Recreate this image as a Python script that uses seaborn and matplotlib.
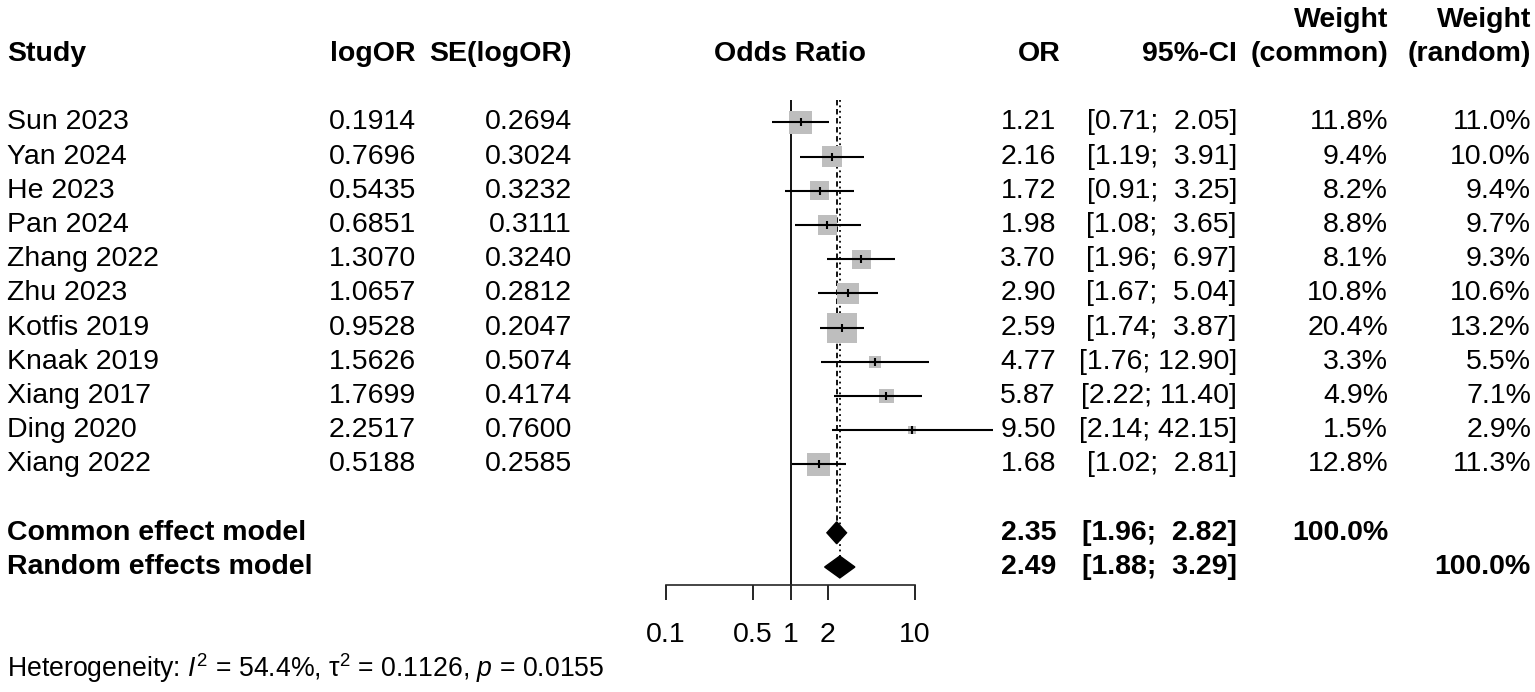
import numpy as np
import pandas as pd
import matplotlib
matplotlib.use("Agg")
import matplotlib.pyplot as plt
from matplotlib.ticker import NullLocator
import seaborn as sns

# data
studies = ["Sun 2023", "Yan 2024", "He 2023", "Pan 2024", "Zhang 2022", "Zhu 2023",
           "Kotfis 2019", "Knaak 2019", "Xiang 2017", "Ding 2020", "Xiang 2022"]
log_or = [0.1914, 0.7696, 0.5435, 0.6851, 1.3070, 1.0657, 0.9528, 1.5626, 1.7699, 2.2517, 0.5188]
se_log_or = [0.2694, 0.3024, 0.3232, 0.3111, 0.3240, 0.2812, 0.2047, 0.5074, 0.4174, 0.7600, 0.2585]
or_est = [1.21, 2.16, 1.72, 1.98, 3.70, 2.90, 2.59, 4.77, 5.87, 9.50, 1.68]
ci_low = [0.71, 1.19, 0.91, 1.08, 1.96, 1.67, 1.74, 1.76, 2.22, 2.14, 1.02]
ci_high = [2.05, 3.91, 3.25, 3.65, 6.97, 5.04, 3.87, 12.90, 11.40, 42.15, 2.81]
w_common = [11.8, 9.4, 8.2, 8.8, 8.1, 10.8, 20.4, 3.3, 4.9, 1.5, 12.8]
w_random = [11.0, 10.0, 9.4, 9.7, 9.3, 10.6, 13.2, 5.5, 7.1, 2.9, 11.3]

model_names = ["Common effect model", "Random effects model"]
model_or = [2.35, 2.49]
model_low = [1.96, 1.88]
model_high = [2.82, 3.29]

tick_values = [0.1, 0.5, 1, 2, 10]
tick_labels = ["0.1", "0.5", "1", "2", "10"]
het_text = r"Heterogeneity: $\mathit{I}^2$ = 54.4%, τ$^2$ = 0.1126, $\mathit{p}$ = 0.0155"

# layout (pixels / row units)
W, H = 1535, 692
ROW0, ROWH = 54, 34.2          # pixel y of header row, row height
study_rows = np.arange(2, 2 + len(studies))
model_rows = [14, 15]
FS = 20.5

sns.set_theme(style="white")
plt.rcParams['font.family'] = ['Liberation Sans', 'DejaVu Sans']
plt.rcParams['mathtext.fontset'] = 'custom'
plt.rcParams['mathtext.rm'] = 'Liberation Sans'
plt.rcParams['mathtext.it'] = 'Liberation Sans:italic'
plt.rcParams['mathtext.bf'] = 'Liberation Sans:bold'

fig = plt.figure(figsize=(W / 100, H / 100), dpi=100)

# text layer spanning the whole figure, y in row units
ax_t = fig.add_axes([0, 0, 1, 1])
ax_t.set_xlim(0, W)
ax_t.set_ylim((H - ROW0) / ROWH, -ROW0 / ROWH)
ax_t.axis('off')

def txt(x, r, s, ha='left', bold=False, size=FS):
    ax_t.text(x, r, s, ha=ha, va='center', fontsize=size,
              fontweight='bold' if bold else 'normal', color='black')

# headers
txt(7, 0, "Study", bold=True)
txt(416, 0, "logOR", ha='right', bold=True)
txt(572, 0, "SE(logOR)", ha='right', bold=True)
txt(790, 0, "Odds Ratio", ha='center', bold=True)
txt(1061, 0, "OR", ha='right', bold=True)
txt(1237, 0, "95%-CI", ha='right', bold=True)
txt(1388, -1, "Weight", ha='right', bold=True)
txt(1388, 0, "(common)", ha='right', bold=True)
txt(1531, -1, "Weight", ha='right', bold=True)
txt(1531, 0, "(random)", ha='right', bold=True)

for i, r in enumerate(study_rows):
    txt(7, r, studies[i])
    txt(416, r, f"{log_or[i]:.4f}", ha='right')
    txt(572, r, f"{se_log_or[i]:.4f}", ha='right')
    txt(1056, r, f"{or_est[i]:.2f}", ha='right')
    txt(1237, r, f"[{ci_low[i]:.2f};{ci_high[i]:6.2f}]", ha='right')
    txt(1388, r, f"{w_common[i]:.1f}%", ha='right')
    txt(1531, r, f"{w_random[i]:.1f}%", ha='right')

for j, r in enumerate(model_rows):
    txt(7, r, model_names[j], bold=True)
    txt(1056, r, f"{model_or[j]:.2f}", ha='right', bold=True)
    txt(1237, r, f"[{model_low[j]:.2f};{model_high[j]:6.2f}]", ha='right', bold=True)
txt(1388, model_rows[0], "100.0%", ha='right', bold=True)
txt(1531, model_rows[1], "100.0%", ha='right', bold=True)

txt(7, 17.95, het_text, size=19.2)

# forest panel
ax_top_px, ax_bot_px = 100, 585
ax = fig.add_axes([666 / W, 1 - ax_bot_px / H, (915 - 666) / W, (ax_bot_px - ax_top_px) / H])
ax.patch.set_visible(False)
ax.set_xscale('log')
ax.set_xlim(0.1, 10)
y_top = (ax_top_px - ROW0) / ROWH
ax.set_ylim((ax_bot_px - ROW0) / ROWH, y_top)

# squares with area proportional to common-effect weight
df = pd.DataFrame({"study": studies, "or": or_est, "row": study_rows, "w": w_common})
sns.scatterplot(data=df, x="or", y="row", size="w", sizes=(0, 2260), size_norm=(0, 100),
                marker='s', color='#BEBEBE', linewidth=0, legend=False, ax=ax,
                zorder=2, clip_on=False)
ax.hlines(study_rows, ci_low, ci_high, color='black', lw=1.5, zorder=3, clip_on=False)
ax.plot(or_est, study_rows, '|', color='black', ms=6, mew=1.5, zorder=4)

# reference lines
ax.axvline(1, color='black', lw=1.3, zorder=1)
ax.vlines(model_or[0], y_top, model_rows[0], color='black', lw=1.3, linestyles=(0, (3, 2)), zorder=1)
ax.vlines(model_or[1], y_top, model_rows[1], color='black', lw=1.3, linestyles=(0, (1, 2)), zorder=1)

# summary diamonds
h = 0.32
for j, r in enumerate(model_rows):
    ax.fill([model_low[j], model_or[j], model_high[j], model_or[j]],
            [r, r - h, r, r + h], color='black', zorder=5, clip_on=False)

for s in ['top', 'right', 'left']:
    ax.spines[s].set_visible(False)
ax.spines['bottom'].set_linewidth(1.2)
ax.set_yticks([])
ax.set_xticks(tick_values)
ax.set_xticklabels(tick_labels)
ax.xaxis.set_minor_locator(NullLocator())
ax.tick_params(axis='x', direction='out', length=11, width=1.2, pad=16,
               labelsize=FS, bottom=True, colors='black')
ax.set_xlabel("")
ax.set_ylabel("")

fig.savefig("out.png", dpi=100)
